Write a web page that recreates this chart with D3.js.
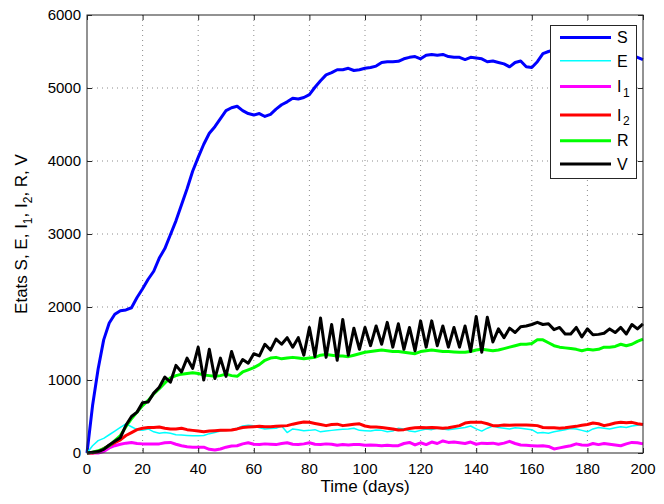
<!DOCTYPE html>
<html>
<head>
<meta charset="utf-8">
<script src="https://cdn.jsdelivr.net/npm/d3@7"></script>
<style>
  html, body { margin: 0; padding: 0; background: #fff; overflow: hidden; }
  svg { display: block; }
</style>
</head>
<body>
<svg width="664" height="504" id="mainSvg" font-family="'Liberation Sans', Arial, sans-serif"></svg>
<script>
// sampling grid, one value every 2 days
const days = d3.range(0, 201, 2);

const S = [
  0, 650, 1150, 1550, 1780, 1900, 1950, 1960, 1990, 2130,
  2250, 2380, 2490, 2670, 2800, 2990, 3180, 3400, 3620, 3860,
  4050, 4230, 4380, 4470, 4580, 4690, 4730, 4750, 4690, 4650,
  4630, 4650, 4610, 4640, 4710, 4770, 4810, 4860, 4850, 4870,
  4910, 5010, 5100, 5180, 5210, 5250, 5250, 5270, 5240, 5250,
  5270, 5280, 5300, 5350, 5360, 5360, 5365, 5400, 5420, 5430,
  5400, 5450, 5460, 5450, 5460, 5430, 5420, 5420, 5390, 5420,
  5410, 5400, 5360, 5370, 5350, 5330, 5290, 5350, 5370, 5290,
  5280, 5360, 5470, 5500, 5520, 5540, 5530, 5520, 5510, 5500,
  5490, 5480, 5470, 5460, 5450, 5440, 5440, 5430, 5430, 5420,
  5390
];
const E = [
  0, 100, 170, 200, 250, 300, 350, 400, 360, 320,
  310, 330, 290, 270, 280, 270, 250, 245, 240, 235,
  235, 240, 265, 280, 300, 310, 320, 340, 370, 380,
  375, 345, 330, 335, 340, 370, 280, 330, 320, 305,
  310, 320, 290, 300, 310, 320, 325, 330, 340, 310,
  305, 300, 315, 310, 290, 300, 340, 330, 300, 290,
  310, 330, 320, 340, 330, 320, 330, 340, 350, 370,
  330, 300, 340, 370, 350, 340, 330, 345, 340, 330,
  320, 275, 280, 270, 290, 305, 320, 335, 330, 310,
  290, 330, 350, 340, 330, 345, 360, 350, 370, 380,
  390
];
const I1 = [
  0, 0, 0, 20, 70, 100, 120, 135, 145, 130,
  125, 125, 125, 125, 140, 145, 120, 100, 85, 80,
  80, 80, 50, 40, 55, 80, 95, 100, 125, 140,
  120, 115, 125, 120, 115, 130, 140, 120, 115, 125,
  140, 120, 115, 125, 120, 105, 115, 110, 115, 115,
  105, 110, 105, 100, 105, 100, 100, 130, 145, 110,
  140, 115, 150, 130, 165, 145, 150, 140, 130, 150,
  120, 135, 130, 135, 120, 135, 160, 130, 110, 105,
  100, 95, 100, 90, 55, 70, 85, 100, 125, 110,
  105, 130, 115, 130, 120, 110, 100, 125, 145, 140,
  125
];
const I2 = [
  0, 0, 20, 60, 100, 140, 180, 240, 280, 320,
  340, 350, 350, 355, 340, 330, 330, 340, 320, 310,
  300, 290, 300, 305, 310, 310, 315, 330, 350, 355,
  360, 365, 360, 360, 365, 370, 375, 395, 410, 425,
  420, 405, 390, 375, 390, 395, 375, 385, 395, 400,
  370, 355, 355, 350, 340, 330, 315, 320, 335, 345,
  350, 345, 350, 345, 340, 345, 360, 375, 410, 420,
  420, 420, 400, 375, 375, 385, 380, 385, 385, 385,
  380, 375, 350, 345, 345, 340, 345, 355, 365, 380,
  390, 410, 400, 375, 390, 410, 420, 415, 420, 400,
  390
];
const R = [
  0, 10, 30, 60, 100, 170, 240, 360, 470, 560,
  650, 720, 810, 880, 960, 1030, 1060, 1080, 1090, 1100,
  1090, 1070, 1060, 1050, 1060, 1080, 1060, 1050, 1110, 1140,
  1170, 1210, 1270, 1300, 1310, 1290, 1300, 1310, 1300, 1290,
  1300, 1310, 1340, 1350, 1340, 1330, 1330, 1320, 1340, 1360,
  1380, 1390, 1400, 1410, 1400, 1390, 1390, 1380, 1370, 1360,
  1390, 1400, 1410, 1400, 1390, 1390, 1385, 1380, 1380, 1390,
  1410, 1420, 1410, 1400, 1410, 1430, 1450, 1470, 1490, 1490,
  1500, 1550, 1550, 1510, 1470, 1450, 1440, 1430, 1420, 1400,
  1420, 1410, 1420, 1450, 1450, 1460, 1490, 1470, 1490, 1530,
  1560
];
const V = [
  0, 10, 20, 50, 110, 160, 210, 380, 500, 560,
  690, 700, 820, 900, 1040, 970, 1200, 1110, 1300, 1160,
  1450, 1000, 1420, 1020, 1300, 1050, 1390, 1150, 1280, 1230,
  1360, 1330, 1490, 1410, 1560, 1490, 1580, 1450, 1580, 1340,
  1720, 1320, 1850, 1310, 1760, 1270, 1830, 1340, 1710, 1420,
  1720, 1470, 1740, 1490, 1790, 1450, 1770, 1420, 1720, 1400,
  1810, 1450, 1810, 1470, 1740, 1450, 1720, 1450, 1740, 1390,
  1870, 1380, 1860, 1520, 1700, 1580, 1710, 1650, 1730, 1740,
  1760, 1790, 1760, 1770, 1690, 1720, 1630, 1630, 1720, 1590,
  1700, 1620, 1625, 1640, 1700, 1650, 1720, 1630, 1760, 1700,
  1770
];

const seriesNames = ["S", "E", "I1", "I2", "R", "V"];
const seriesValues = [S, E, I1, I2, R, V];
const seriesColors = ["#0000ff", "#00ffff", "#ff00ff", "#ff0000", "#00ff00", "#000000"];
const seriesWidths = [3, 1.5, 3, 3, 3, 3];

const xTicks = [0, 20, 40, 60, 80, 100, 120, 140, 160, 180, 200];
const yTicks = [0, 1000, 2000, 3000, 4000, 5000, 6000];

const mainSvg = d3.select("#mainSvg");
const margin = { top: 15, right: 21, bottom: 51, left: 87 };
const innerWidth = 664 - margin.left - margin.right;
const innerHeight = 504 - margin.top - margin.bottom;

mainSvg.append("rect").attr("width", 664).attr("height", 504).attr("fill", "#fff");

const g = mainSvg.append("g")
  .attr("transform", `translate(${margin.left}, ${margin.top})`);

const x = d3.scaleLinear().domain([0, 200]).range([0, innerWidth]);
const y = d3.scaleLinear().domain([0, 6000]).range([innerHeight, 0]);

// dotted grid
g.append("g").selectAll("line").data(xTicks.slice(1, -1)).join("line")
  .attr("x1", d => x(d)).attr("x2", d => x(d))
  .attr("y1", 0).attr("y2", innerHeight)
  .attr("stroke", "#8c8c8c").attr("stroke-width", 1).attr("stroke-dasharray", "1,4");
g.append("g").selectAll("line").data(yTicks.slice(1, -1)).join("line")
  .attr("y1", d => y(d)).attr("y2", d => y(d))
  .attr("x1", 0).attr("x2", innerWidth)
  .attr("stroke", "#8c8c8c").attr("stroke-width", 1).attr("stroke-dasharray", "1,4");

// series
const line = d3.line().x((d, i) => x(days[i])).y(d => y(d));
seriesValues.forEach((vals, k) => {
  g.append("path")
    .datum(vals)
    .attr("d", line)
    .attr("fill", "none")
    .attr("stroke", seriesColors[k])
    .attr("stroke-width", seriesWidths[k])
    .attr("stroke-linejoin", "round");
});

// tick marks inside the box on all four sides, like matlab
const tickOnly = sel => {
  sel.select(".domain").remove();
  sel.selectAll(".tick line").attr("stroke", "#262626");
  sel.selectAll(".tick text").remove();
};
g.append("g").attr("transform", `translate(0, ${innerHeight})`)
  .call(d3.axisBottom(x).tickValues(xTicks).tickSize(-5)).call(tickOnly);
g.append("g")
  .call(d3.axisTop(x).tickValues(xTicks).tickSize(-5)).call(tickOnly);
g.append("g")
  .call(d3.axisLeft(y).tickValues(yTicks).tickSize(-5)).call(tickOnly);
g.append("g").attr("transform", `translate(${innerWidth}, 0)`)
  .call(d3.axisRight(y).tickValues(yTicks).tickSize(-5)).call(tickOnly);

g.append("rect")
  .attr("width", innerWidth).attr("height", innerHeight)
  .attr("fill", "none").attr("stroke", "#262626").attr("stroke-width", 1);

// tick labels, placed from the scales
mainSvg.append("g").selectAll("text").data(xTicks).join("text")
  .attr("x", d => margin.left + x(d))
  .attr("y", margin.top + innerHeight + 10)
  .attr("dy", "0.71em")
  .attr("text-anchor", "middle").attr("font-size", 15)
  .text(d => d);
mainSvg.append("g").selectAll("text").data(yTicks).join("text")
  .attr("x", margin.left - 6)
  .attr("y", d => margin.top + y(d))
  .attr("dy", "0.32em")
  .attr("text-anchor", "end").attr("font-size", 15)
  .text(d => d);

// axis labels
mainSvg.append("text")
  .attr("x", margin.left + innerWidth / 2).attr("y", 492)
  .attr("text-anchor", "middle").attr("font-size", 17)
  .text("Time (days)");

const yl = mainSvg.append("text")
  .attr("transform", `translate(27, ${margin.top + innerHeight / 2}) rotate(-90)`)
  .attr("text-anchor", "middle").attr("font-size", 17);
yl.append("tspan").text("Etats S, E, I");
yl.append("tspan").attr("dy", 5).attr("font-size", 12).text("1");
yl.append("tspan").attr("dy", -5).text(", I");
yl.append("tspan").attr("dy", 5).attr("font-size", 12).text("2");
yl.append("tspan").attr("dy", -5).text(", R, V");

// legend
const lg = mainSvg.append("g");
lg.append("rect")
  .attr("x", 550.5).attr("y", 25.5).attr("width", 86).attr("height", 153)
  .attr("fill", "#fff").attr("stroke", "#262626").attr("stroke-width", 1);
let rowY = 37.5;
seriesNames.forEach((name, k) => {
  if (k > 0) {
    const subPrev = seriesNames[k - 1].length > 1 ? 2.5 : 0;
    const subCur = name.length > 1 ? 2.5 : 0;
    rowY += 23.3 + subPrev + subCur;
  }
  lg.append("line")
    .attr("x1", 560).attr("x2", 611).attr("y1", rowY).attr("y2", rowY)
    .attr("stroke", seriesColors[k]).attr("stroke-width", seriesWidths[k]);
  lg.append("text")
    .attr("x", 617).attr("y", rowY).attr("dy", "0.36em")
    .attr("font-size", 16)
    .text(name[0]);
  if (name.length > 1) {
    lg.append("text")
      .attr("x", 623).attr("y", rowY + 6).attr("dy", "0.36em")
      .attr("font-size", 12)
      .text(name.slice(1));
  }
});
</script>
</body>
</html>
